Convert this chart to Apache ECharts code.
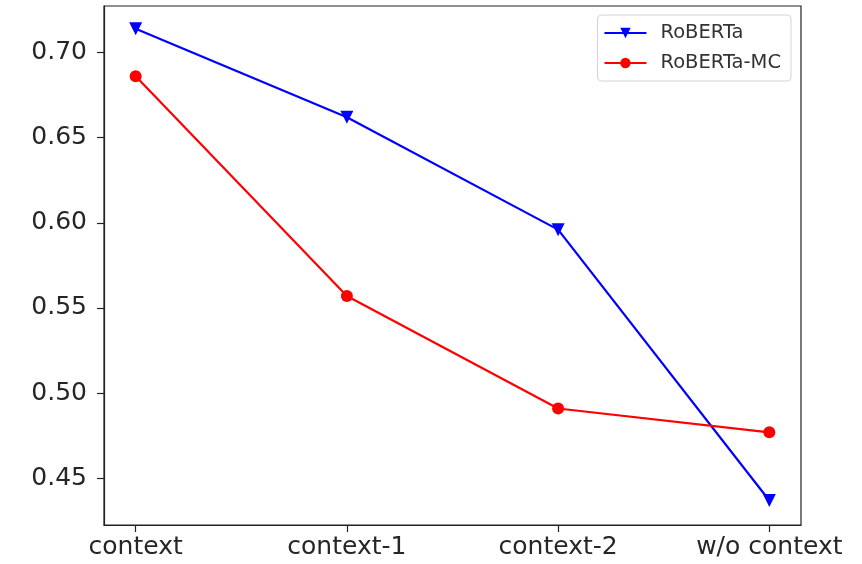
<!DOCTYPE html>
<html>
<head>
<meta charset="utf-8">
<script src="https://cdn.jsdelivr.net/npm/echarts@6/dist/echarts.min.js"></script>
<style>html,body{margin:0;padding:0;background:#fff}#c{width:862px;height:564px}</style>
</head>
<body>
<div id="c"></div>
<script>
const categories = ['context', 'context-1', 'context-2', 'w/o context'];
const roberta = [0.714, 0.662, 0.596, 0.437];
const robertaMC = [0.686, 0.557, 0.491, 0.477];
const yTicks = [0.45, 0.50, 0.55, 0.60, 0.65, 0.70];
const xTicks = [0, 1, 2, 3];

const chart = echarts.init(document.getElementById('c'), null, {renderer: 'canvas'});
const font = 'DejaVu Sans';
chart.setOption({
  animation: false,
  backgroundColor: '#fff',
  grid: {left: 104, right: 61, top: 6, bottom: 39, show: true, borderColor: '#222', borderWidth: 1.2, containLabel: false},
  legend: {
    right: 71, top: 15, orient: 'vertical',
    itemWidth: 42, itemHeight: 13, itemGap: 10,
    padding: [8, 10, 8, 6],
    borderColor: '#d4d4d4', borderWidth: 1, borderRadius: 4,
    textStyle: {fontFamily: font, fontSize: 19.5, color: '#333', padding: [0, 0, 0, 9]},
    data: ['RoBERTa', 'RoBERTa-MC']
  },
  xAxis: {
    type: 'value', min: -0.15, max: 3.15,
    splitLine: {show: false},
    axisLine: {show: true, onZero: false, lineStyle: {color: '#222', width: 1.2}},
    axisTick: {show: true, customValues: xTicks, length: 7, lineStyle: {color: '#222', width: 1.2}},
    axisLabel: {customValues: xTicks, formatter: v => categories[Math.round(v)] || '', fontFamily: font, fontSize: 25, color: '#262626', margin: 10}
  },
  yAxis: {
    type: 'value', min: 0.4226, max: 0.7273,
    splitLine: {show: false},
    axisLine: {show: true, onZero: false, lineStyle: {color: '#222', width: 1.2}},
    axisTick: {show: true, customValues: yTicks, length: 7, lineStyle: {color: '#222', width: 1.2}},
    axisLabel: {customValues: yTicks, formatter: v => v.toFixed(2), fontFamily: font, fontSize: 25, color: '#262626', margin: 17}
  },
  series: [
    {
      name: 'RoBERTa', type: 'line',
      data: roberta.map((v, i) => [xTicks[i], v]),
      symbol: 'triangle', symbolRotate: 180, symbolSize: 13,
      itemStyle: {color: '#0000ff'},
      lineStyle: {color: '#0000ff', width: 2.2}
    },
    {
      name: 'RoBERTa-MC', type: 'line',
      data: robertaMC.map((v, i) => [xTicks[i], v]),
      symbol: 'circle', symbolSize: 12,
      itemStyle: {color: '#ff0000'},
      lineStyle: {color: '#ff0000', width: 2.2}
    }
  ]
});
</script>
</body>
</html>
